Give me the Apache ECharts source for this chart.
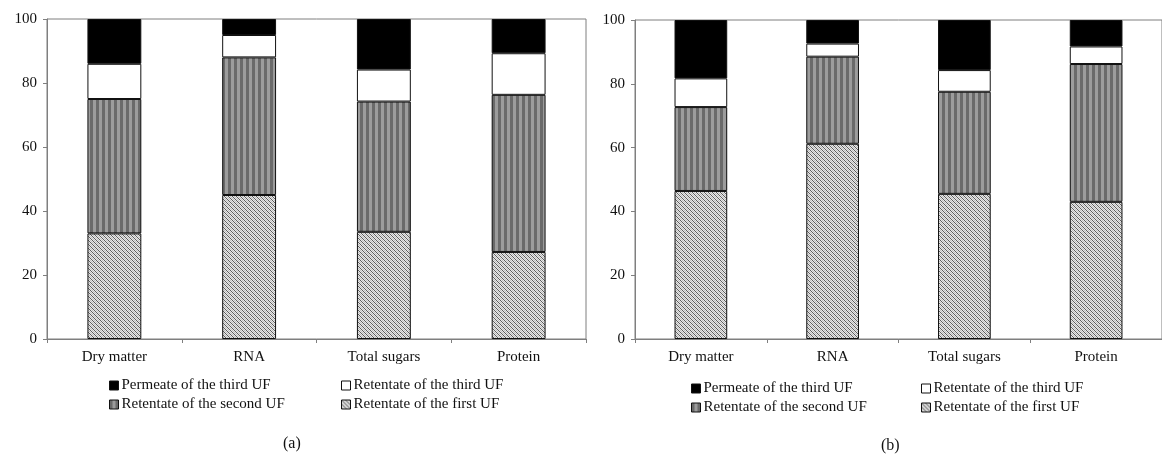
<!DOCTYPE html>
<html>
<head>
<meta charset="utf-8">
<script src="https://cdn.jsdelivr.net/npm/echarts@6/dist/echarts.min.js"></script>
<style>
  html, body { margin: 0; padding: 0; background: #fff; }
  #chart { width: 1162px; height: 456px; }
</style>
</head>
<body>
<div id="chart"></div>
<script>
// Data (percent of total in each fraction)
var categories = ['Dry matter', 'RNA', 'Total sugars', 'Protein'];
var seriesNames = ['Permeate of the third UF', 'Retentate of the third UF', 'Retentate of the second UF', 'Retentate of the first UF'];

// panel (a)
var aFirst = [33, 45, 33.5, 27.2];
var aSecond = [42, 43, 40.7, 49.1];
var aThirdRet = [11, 7, 10, 13];
var aThirdPerm = [14, 5, 15.8, 10.7];

// panel (b)
var bFirst = [46.4, 61.2, 45.5, 43];
var bSecond = [26.3, 27.3, 32, 43.2];
var bThirdRet = [9, 4.1, 6.8, 5.5];
var bThirdPerm = [18.3, 7.4, 15.7, 8.3];

var yTicks = [0, 20, 40, 60, 80, 100];

// fill patterns
function stripes() {
  var c = document.createElement('canvas');
  c.width = 6; c.height = 6;
  var g = c.getContext('2d');
  g.fillStyle = '#9c9c9c'; g.fillRect(0, 0, 6, 6);
  g.fillStyle = '#6a6a6a'; g.fillRect(0, 0, 3, 6);
  return c;
}
function hatch() {
  var c = document.createElement('canvas');
  c.width = 4; c.height = 4;
  var g = c.getContext('2d');
  g.fillStyle = '#e8e8e8'; g.fillRect(0, 0, 4, 4);
  g.fillStyle = '#5e5e5e';
  for (var i = 0; i < 4; i++) g.fillRect(i, i, 1, 1);
  g.fillStyle = '#bdbdbd';
  for (var j = 0; j < 4; j++) g.fillRect((j + 2) % 4, j, 1, 1);
  return c;
}

var fills = {};
fills[seriesNames[0]] = '#000';
fills[seriesNames[1]] = '#fff';
fills[seriesNames[2]] = { image: stripes(), repeat: 'repeat' };
fills[seriesNames[3]] = { image: hatch(), repeat: 'repeat' };

var font = 'Liberation Serif';
var axisGray = '#7f7f7f';

function xAxisFor(gi) {
  return {
    type: 'category', gridIndex: gi, data: categories,
    axisLine: { lineStyle: { color: axisGray, width: 1 } },
    axisTick: { show: true, length: 4, alignWithLabel: false, lineStyle: { color: axisGray } },
    axisLabel: { color: '#111', fontFamily: font, fontSize: 15, margin: 11 }
  };
}
function yAxisFor(gi) {
  return {
    type: 'value', gridIndex: gi, min: 0, max: 100, interval: 20,
    axisLine: { show: true, lineStyle: { color: axisGray, width: 1 } },
    axisTick: { show: true, length: 4, lineStyle: { color: axisGray } },
    axisLabel: { color: '#111', fontFamily: font, fontSize: 15, margin: 10,
      formatter: function (v) { return yTicks.indexOf(v) >= 0 ? String(v) : ''; } },
    splitLine: { show: false }
  };
}

function stackSeries(gi, arrs) {
  // bottom to top: first, second, third retentate, permeate
  var order = [3, 2, 1, 0];
  return order.map(function (k, i) {
    return {
      name: seriesNames[k], type: 'bar', stack: 'p' + gi,
      xAxisIndex: gi, yAxisIndex: gi, barWidth: '40%',
      data: arrs[i],
      itemStyle: { color: fills[seriesNames[k]], borderColor: '#111', borderWidth: 1 },
      emphasis: { disabled: true }
    };
  });
}

function legendItem(name, left, top) {
  return {
    data: [name], left: left, top: top, icon: 'rect',
    itemWidth: 9, itemHeight: 9, itemGap: 4, padding: 0,
    selectedMode: false,
    itemStyle: { borderColor: '#111', borderWidth: 1 },
    textStyle: { fontFamily: font, fontSize: 15, color: '#111', padding: [0, 0, 0, -2] }
  };
}

var chart = echarts.init(document.getElementById('chart'));
chart.setOption({
  animation: false,
  backgroundColor: '#fff',
  grid: [
    { left: 47, top: 19, width: 539, height: 320, show: true, borderColor: axisGray, borderWidth: 1 },
    { left: 635, top: 20, width: 530, height: 319, show: true, borderColor: axisGray, borderWidth: 1 }
  ],
  xAxis: [xAxisFor(0), xAxisFor(1)],
  yAxis: [yAxisFor(0), yAxisFor(1)],
  legend: [
    legendItem(seriesNames[0], 109, 378),
    legendItem(seriesNames[1], 341, 378),
    legendItem(seriesNames[2], 109, 397),
    legendItem(seriesNames[3], 341, 397),
    legendItem(seriesNames[0], 691, 381),
    legendItem(seriesNames[1], 921, 381),
    legendItem(seriesNames[2], 691, 400),
    legendItem(seriesNames[3], 921, 400)
  ],
  graphic: [
    { type: 'text', left: 283, top: 436, style: { text: '(a)', font: '16px "Liberation Serif"', fill: '#111' } },
    { type: 'text', left: 881, top: 438, style: { text: '(b)', font: '16px "Liberation Serif"', fill: '#111' } }
  ],
  series: stackSeries(0, [aFirst, aSecond, aThirdRet, aThirdPerm])
    .concat(stackSeries(1, [bFirst, bSecond, bThirdRet, bThirdPerm]))
});
</script>
</body>
</html>
